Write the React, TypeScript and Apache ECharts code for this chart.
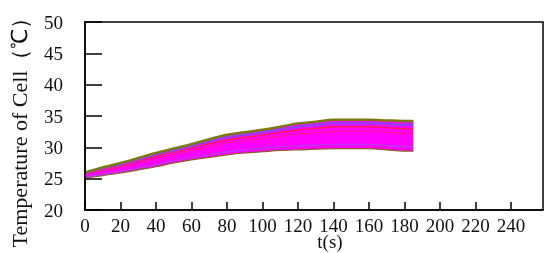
import React, { useEffect, useRef } from "react";
import * as echarts from "echarts";

const times = [0, 10, 20, 30, 40, 50, 60, 70, 80, 90, 100, 110, 120, 130, 140, 150, 160, 170, 180, 185];
const upper = [26.0, 26.8, 27.5, 28.3, 29.1, 29.8, 30.5, 31.3, 32.0, 32.4, 32.8, 33.3, 33.8, 34.1, 34.4, 34.4, 34.4, 34.3, 34.2, 34.2];
const lower = [25.1, 25.5, 25.9, 26.4, 26.9, 27.5, 28.0, 28.4, 28.8, 29.1, 29.3, 29.5, 29.6, 29.7, 29.8, 29.8, 29.8, 29.6, 29.4, 29.4];
const xTicks = [0, 20, 40, 60, 80, 100, 120, 140, 160, 180, 200, 220, 240];
const yTicks = [20, 25, 30, 35, 40, 45, 50];

const serif = "'Liberation Serif', 'Times New Roman', serif";

export default function App() {
  const ref = useRef<HTMLDivElement>(null);
  useEffect(() => {
    if (!ref.current) return;
    const chart = echarts.init(ref.current, undefined, { renderer: "svg" });
    const pair = (arr: number[]) => times.map((t, i) => [t, arr[i]]);
    const mix = (f: number) => times.map((t, i) => [t, upper[i] - (upper[i] - lower[i]) * f]);
    const sm = 0.3;
    chart.setOption({
      animation: false,
      grid: { left: 85, right: 7, top: 22, bottom: 43, show: true, borderColor: "#000", borderWidth: 1.5, backgroundColor: "transparent" },
      xAxis: {
        type: "value",
        min: xTicks[0],
        max: 258,
        interval: 20,
        z: 10,
        axisLine: { show: true, lineStyle: { color: "#000", width: 1.5 } },
        axisTick: { show: true, inside: true, length: 8, lineStyle: { color: "#000", width: 1.5 } },
        splitLine: { show: false },
        axisLabel: {
          showMaxLabel: false,
          color: "#111",
          fontFamily: serif,
          fontSize: 19,
          margin: 6,
          formatter: (v: number) => (xTicks.includes(v) ? String(v) : ""),
        },
      },
      yAxis: {
        type: "value",
        min: yTicks[0],
        max: yTicks[yTicks.length - 1],
        interval: 5,
        z: 10,
        axisLine: { show: true, lineStyle: { color: "#000", width: 1.5 } },
        axisTick: { show: true, inside: true, length: 17, lineStyle: { color: "#000", width: 1.5 } },
        splitLine: { show: false },
        axisLabel: {
          color: "#111",
          fontFamily: serif,
          fontSize: 19,
          margin: 22,
          padding: [0, 0, 8, 0],
        },
      },
      graphic: [
        {
          type: "text",
          x: 19,
          y: 127,
          rotation: Math.PI / 2,
          style: {
            text: "Temperature of Cell（℃）",
            fontFamily: serif,
            fontSize: 22,
            fill: "#111",
            align: "center",
            verticalAlign: "middle",
          },
        },
        {
          type: "text",
          x: 330,
          y: 241,
          style: {
            text: "t(s)",
            fontFamily: serif,
            fontSize: 19,
            fill: "#111",
            align: "center",
            verticalAlign: "middle",
          },
        },
      ],
      series: [
        {
          type: "custom",
          data: [0],
          z: 1,
          renderItem: (_params: any, api: any) => {
            const pts: number[][] = [];
            for (let i = 0; i < times.length; i++) pts.push(api.coord([times[i], upper[i]]));
            for (let i = times.length - 1; i >= 0; i--) pts.push(api.coord([times[i], lower[i]]));
            return {
              type: "polygon",
              shape: { points: pts },
              style: { fill: "#ff00ff", stroke: "none" },
            };
          },
        },
        { type: "line", data: pair(lower), smooth: sm, symbol: "none", lineStyle: { color: "#8a5a20", width: 1.2 }, z: 3 },
        { type: "line", data: mix(0.85), smooth: sm, symbol: "none", lineStyle: { color: "#b040f0", width: 1.2 }, z: 3 },
        { type: "line", data: mix(0.4), smooth: sm, symbol: "none", lineStyle: { color: "#ff2080", width: 1 }, z: 3 },
        { type: "line", data: mix(0.25), smooth: sm, symbol: "none", lineStyle: { color: "#ff2040", width: 1.2 }, z: 3 },
        { type: "line", data: mix(0.12), smooth: sm, symbol: "none", lineStyle: { color: "#9a3cf5", width: 2.5 }, z: 4 },
        { type: "line", data: pair(upper), smooth: sm, symbol: "none", lineStyle: { color: "#7a7a10", width: 2.5 }, z: 5 },
      ],
    });
    return () => chart.dispose();
  }, []);
  return <div ref={ref} style={{ position: "fixed", left: 0, top: 0, width: 550, height: 253 }} />;
}
